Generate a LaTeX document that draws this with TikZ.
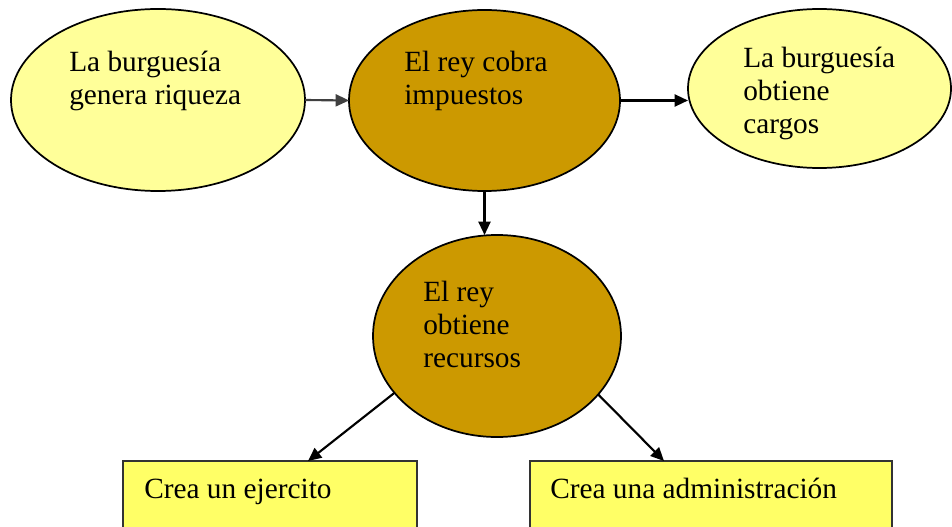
\documentclass[tikz,border=0pt]{standalone}
\usepackage{fontspec}
\setmainfont{Liberation Serif}
\usetikzlibrary{shapes.geometric,arrows.meta}
\definecolor{lightyel}{HTML}{FFFF99}
\definecolor{gold}{HTML}{CC9900}
\definecolor{boxyel}{HTML}{FFFF66}
\tikzset{
  oval/.style={ellipse,draw=black,line width=1.3pt,inner sep=0pt,outer sep=0pt},
  lbl/.style={anchor=base west,align=left,inner sep=0pt,font=\fontsize{22}{24.75}\selectfont},
  conn/.style={line width=1.6pt,-{Triangle[length=10pt,width=9pt]}},
  boxn/.style={draw=black!80,line width=1pt,fill=boxyel,anchor=north west,inner sep=0pt,outer sep=0pt}
}
\begin{document}
\begin{tikzpicture}[x=0.75pt,y=-0.75pt]
\clip (0,0) rectangle (952,527);
\fill[white] (0,0) rectangle (952,527);
\node[oval,fill=lightyel,minimum width=220.5pt,minimum height=136.5pt] (genera) at (158,100) {};
\node[oval,fill=gold,minimum width=203.25pt,minimum height=135.75pt] (cobra) at (484.5,100.5) {};
\node[oval,fill=lightyel,minimum width=197.25pt,minimum height=119.25pt] (cargos) at (819.5,88.5) {};
\node[oval,fill=gold,minimum width=186pt,minimum height=151.5pt] (recursos) at (497,336) {};
\node[boxn,minimum width=220.5pt,minimum height=60pt] (ejercito) at (123,461) {};
\node[boxn,minimum width=271.5pt,minimum height=60pt] (admin) at (530,461) {};
\node[lbl] (tgenera) at (69,105) {La burguesía\\genera riqueza};
\node[lbl] (tcobra) at (404,105) {El rey cobra\\impuestos};
\node[lbl] (tcargos) at (743,134) {La burguesía\\obtiene\\cargos};
\node[lbl] (trecursos) at (423,367) {El rey\\obtiene\\recursos};
\node[lbl] (tejercito) at (144,498) {Crea un ejercito};
\node[lbl] (tadmin) at (550,498) {Crea una administración};
\coordinate (e1) at (308,461);
\coordinate (e2) at (664,461);
\draw[conn,draw=black!75] (genera.east) -- (cobra.west);
\draw[conn] (cobra.east) -- (cobra.east -| cargos.west);
\draw[conn] (cobra.south) -- (cobra.south |- recursos.north);
\draw[conn] (recursos.209) -- (e1);
\draw[conn] (recursos.330.6) -- (e2);
\end{tikzpicture}
\end{document}
